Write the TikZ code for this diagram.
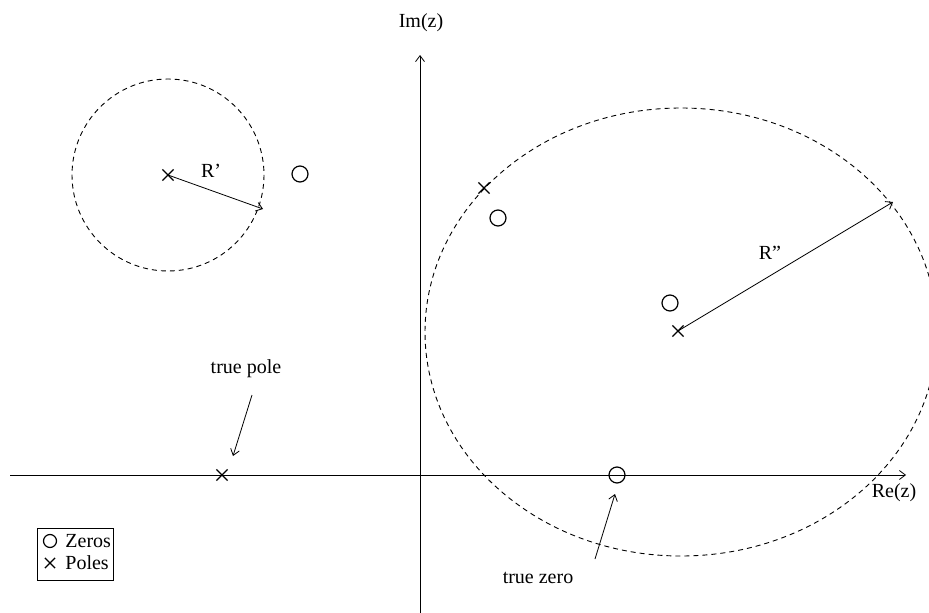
\documentclass[tikz,border=0pt]{standalone}
\usepackage{fontspec}
\setmainfont{Liberation Serif}
\usetikzlibrary{shapes.misc,arrows.meta}
\begin{document}
\begin{tikzpicture}[x=1pt,y=-1pt,
  font=\fontsize{20}{23}\selectfont,
  line width=0.8pt,
  >={Straight Barb[length=6pt,width=9pt]},
  zero/.style={circle, draw, minimum size=16pt, inner sep=0pt, line width=1.2pt},
  pole/.style={cross out, draw, minimum size=10pt, inner sep=0pt, line width=1.2pt},
  region/.style={dashed, dash pattern=on 5pt off 4pt, line width=0.9pt},
  lbl/.style={inner sep=1pt}]
\clip (0,0) rectangle (929,613);
\fill[white] (0,0) rectangle (929,613);
% axes
\coordinate (xs) at (10,475);
\coordinate (xe) at (906,475);
\coordinate (ys) at (420,613);
\coordinate (ye) at (420,55);
\draw[->] (xs) -- (xe);
\draw[->] (ys) -- (ye);
\node[lbl] (im) at (421,23) {Im(z)};
\node[lbl] (re) at (894,493) {Re(z)};
% regions
\draw[region] (168,175) circle [radius=96];
\draw[region] (681,332) ellipse [x radius=256, y radius=224];
% poles
\node[pole] (p1) at (168,175) {};
\node[pole] (p2) at (484,188) {};
\node[pole] (p3) at (678,331) {};
\node[pole] (p4) at (222,475) {};
% zeros
\node[zero] (z1) at (300,174) {};
\node[zero] (z2) at (498,218) {};
\node[zero] (z3) at (670,303) {};
\node[zero] (z4) at (617,475) {};
% radii
\coordinate (r1) at (263,209);
\coordinate (r2) at (893,202);
\draw[->] (p1.center) -- (r1);
\draw[->] (p3.center) -- (r2);
\node[lbl] (rp) at (211,171) {R'};
\node[lbl] (rpp) at (770,253) {R''};
% annotations
\node[lbl] (tp) at (246,369) {true pole};
\coordinate (tpa) at (252,395);
\coordinate (tpb) at (233,456);
\draw[->] (tpa) -- (tpb);
\node[lbl] (tz) at (538,578) {true zero};
\coordinate (tza) at (595,559);
\coordinate (tzb) at (615,494);
\draw[->] (tza) -- (tzb);
% legend
\node[draw, line width=0.8pt, minimum width=76pt, minimum height=52pt, inner sep=0pt] (leg) at (75,554) {};
\node[zero, minimum size=13pt] (lz) at (50,541) {};
\node[pole, minimum size=9pt] (lp) at (50,563) {};
\node[lbl, anchor=west] (lzt) at (64,541) {Zeros};
\node[lbl, anchor=west] (lpt) at (64,563) {Poles};
\end{tikzpicture}
\end{document}
